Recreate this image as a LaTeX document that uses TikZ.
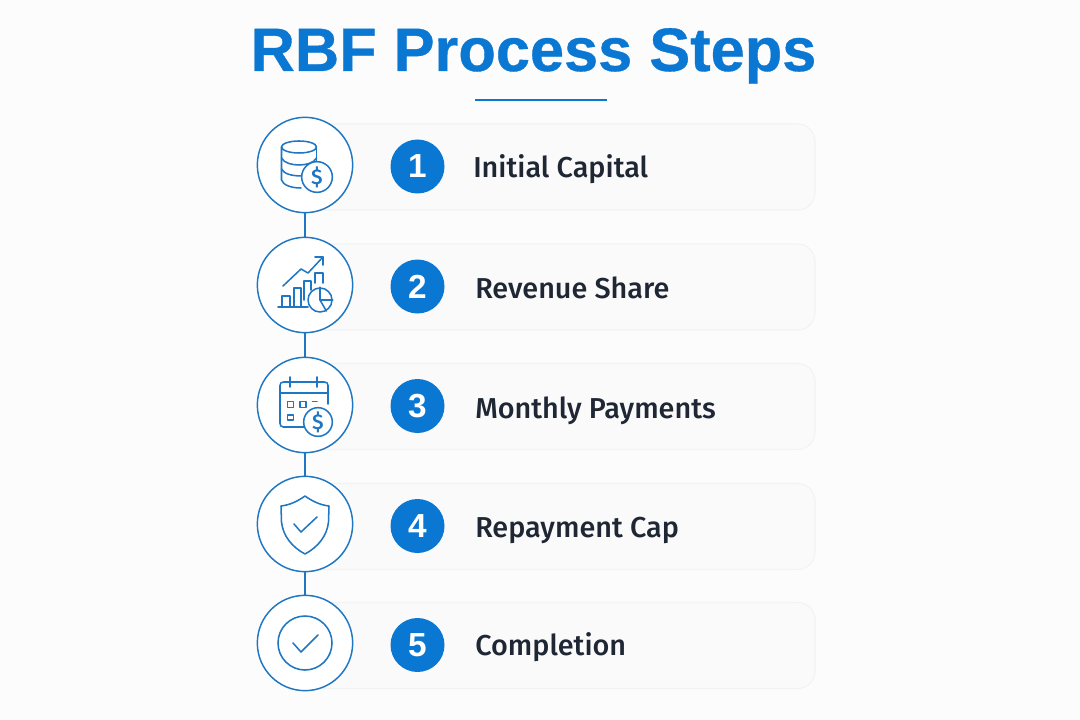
\documentclass[tikz,border=0pt]{standalone}
\usepackage{fontspec}
\setmainfont{Liberation Sans}
\newfontfamily\titlefont[FakeBold=0.6]{Liberation Sans}
\newfontfamily\labelfont{Fira Sans Medium}
\definecolor{pagebg}{HTML}{FCFCFD}
\definecolor{cardbg}{HTML}{FAFAFB}
\definecolor{cardline}{HTML}{F2F3F4}
\definecolor{mainblue}{HTML}{0A78D2}
\definecolor{iconblue}{HTML}{1F76C2}
\definecolor{labelink}{HTML}{1E2733}
\tikzset{
  card/.style={draw=cardline,fill=cardbg,line width=0.8pt,rounded corners=13pt,minimum width=382.5pt,minimum height=64.5pt,inner sep=0pt},
  ring/.style={circle,draw=iconblue,fill=white,line width=1.1pt,minimum size=71.5pt,inner sep=0pt},
  badge/.style={circle,fill=mainblue,text=white,minimum size=40.5pt,inner sep=0pt,font=\bfseries\fontsize{25}{25}\selectfont},
  steplabel/.style={anchor=base west,inner sep=0pt,text=labelink,font=\labelfont\fontsize{21.6}{21.6}\selectfont},
  link/.style={draw=iconblue,line width=2pt},
  icon/.style={draw=iconblue,line width=1.15pt,line join=round,line cap=round},
  dollar/.style={text=iconblue,inner sep=0pt,font=\labelfont\fontsize{16}{16}\selectfont}
}
\begin{document}
\begin{tikzpicture}[x=0.75pt,y=-0.75pt]
  \useasboundingbox (0,0) rectangle (1080,720);
  \fill[pagebg] (0,0) rectangle (1080,720);

  \node[text=mainblue,inner sep=0pt,anchor=base,font=\titlefont\bfseries\fontsize{46}{46}\selectfont] (title) at (533.5,71) {RBF Process Steps};
  \coordinate (ruleL) at (475,100);
  \coordinate (ruleR) at (607,100);
  \draw[mainblue,line width=1pt] (ruleL) -- (ruleR);

  \node[card] (card1) at (560,167) {};
  \node[card] (card2) at (560,287) {};
  \node[card] (card3) at (560,406.5) {};
  \node[card] (card4) at (560,526.5) {};
  \node[card] (card5) at (560,645.5) {};

  \node[ring] (ring1) at (305,165) {};
  \node[ring] (ring2) at (305,285) {};
  \node[ring] (ring3) at (305,405) {};
  \node[ring] (ring4) at (305,524) {};
  \node[ring] (ring5) at (305,643) {};

  \draw[link] (ring1) -- (ring2);
  \draw[link] (ring2) -- (ring3);
  \draw[link] (ring3) -- (ring4);
  \draw[link] (ring4) -- (ring5);

  \node[badge] (badge1) at (417.5,166.5) {1};
  \node[badge] (badge2) at (417.5,286.5) {2};
  \node[badge] (badge3) at (417.5,406) {3};
  \node[badge] (badge4) at (417.5,526) {4};
  \node[badge] (badge5) at (417.5,645) {5};

  \node[steplabel] (label1) at (473,178) {Initial Capital};
  \node[steplabel] (label2) at (475,298) {Revenue Share};
  \node[steplabel] (label3) at (475,418) {Monthly Payments};
  \node[steplabel] (label4) at (475,537) {Repayment Cap};
  \node[steplabel] (label5) at (475,655) {Completion};

  % coins
  \draw[icon] (299,147) ellipse (17.5 and 6);
  \draw[icon] (281.5,147) -- (281.5,180) .. controls (283,185) and (291,188) .. (301,188);
  \draw[icon] (316.5,147) -- (316.5,162);
  \draw[icon] (281.5,158) .. controls (284,163) and (292,165) .. (299,165) .. controls (306,165) and (314,163) .. (316.5,158);
  \draw[icon] (281.5,169) .. controls (284,174) and (292,176) .. (302,176);
  \node[circle,icon,fill=white,minimum size=23pt,inner sep=0pt] (coin1) at (317,177) {};
  \node[dollar] (usd1) at (317,177) {\$};

  % chart
  \draw[icon] (283,286) -- (301,269) -- (308,273) -- (323,257);
  \draw[icon] (315,257) -- (323,257) -- (323,265);
  \draw[icon] (278,307) -- (308,307);
  \draw[icon] (282,307) -- (282,296) -- (290,296) -- (290,307);
  \draw[icon] (294,307) -- (294,288) -- (301,288) -- (301,307);
  \draw[icon] (304,300) -- (304,281) -- (311,281) -- (311,290);
  \draw[icon] (315,283) -- (315,273) -- (323,273) -- (323,283);
  \node[circle,icon,fill=white,minimum size=18pt,inner sep=0pt] (pie) at (320,300) {};
  \draw[icon] (pie.north) -- (pie.center) -- (pie.east);
  \draw[icon] (pie.center) -- (pie.-60);

  % calendar
  \draw[icon,rounded corners=2.5pt] (328,404) -- (328,382) -- (280,382) -- (280,427) -- (304,427);
  \draw[icon] (280,393) -- (328,393);
  \draw[icon] (290,377) -- (290,387);
  \draw[icon] (317,377) -- (317,387);
  \draw[icon] (287.5,401.5) rectangle (293.5,407.5);
  \draw[icon] (300,401.5) rectangle (306,407.5);
  \draw[icon] (312.5,401.5) -- (317,401.5);
  \draw[icon] (287.5,415) rectangle (293.5,420);
  \node[circle,icon,fill=white,minimum size=21.5pt,inner sep=0pt] (coin3) at (318,422) {};
  \node[dollar] (usd3) at (318,422) {\$};

  % shield
  \draw[icon] (305,496) .. controls (298,501) and (290,505) .. (281,506) -- (281.5,522)
    .. controls (283,536) and (292,547) .. (305,554)
    .. controls (318,547) and (327,536) .. (328.5,522) -- (329,506)
    .. controls (320,505) and (312,501) .. (305,496) -- cycle;
  \draw[icon] (294,524) -- (301,532) -- (317,517);

  % check
  \node[circle,icon,minimum size=40.5pt,inner sep=0pt] (done) at (305,643) {};
  \draw[icon] (293,643) -- (301,652) -- (318,635);
\end{tikzpicture}
\end{document}
